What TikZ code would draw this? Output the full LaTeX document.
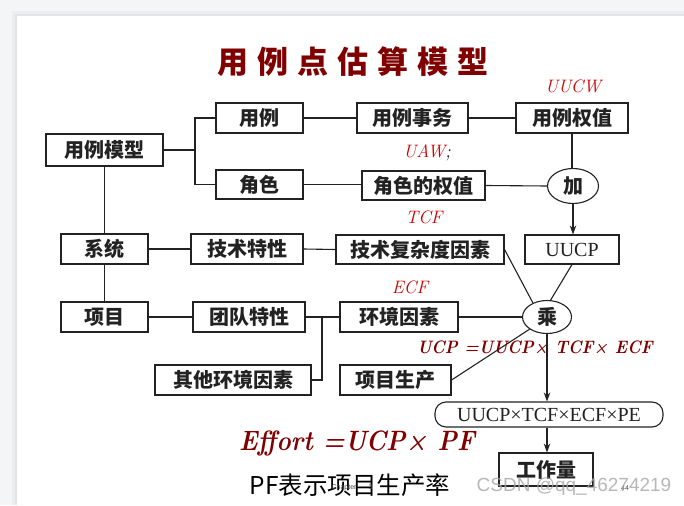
\documentclass[tikz,border=0pt]{standalone}
\usepackage{fontspec}
\usepackage{graphicx}
\usetikzlibrary{arrows.meta,shapes.geometric}
\newfontfamily\cjk{Noto Sans CJK SC}
\newfontfamily\lsr{Liberation Serif}
\newfontfamily\lsans{Liberation Sans}
\definecolor{bgray}{HTML}{F4F5F7}
\definecolor{shad}{HTML}{E2E3E6}
\definecolor{shadb}{HTML}{ECEDF0}
\definecolor{dred}{HTML}{800000}
\definecolor{lred}{HTML}{CC0000}
\definecolor{ink}{HTML}{222222}
\tikzset{
  box/.style={draw=ink, line width=1.1pt, rectangle, inner sep=0pt, text=ink,
    font=\cjk\bfseries\fontsize{20}{22}\selectfont},
  oval/.style={draw=ink, line width=1.1pt, ellipse, inner sep=0pt, text=ink,
    font=\cjk\bfseries\fontsize{20}{22}\selectfont},
  conn/.style={draw=ink, line width=1.1pt},
  arr/.style={conn, -{Stealth[length=9pt,width=6.5pt]}},
  lab/.style={text=lred, inner sep=0pt, font=\fontsize{18}{20}\selectfont\itshape},
}
\begin{document}
\begin{tikzpicture}[x=1pt,y=-1pt]
\useasboundingbox (0,0) rectangle (684,505);
% slide background
\fill[bgray] (0,0) rectangle (684,505);
\fill[shadb] (12,11) rectangle (684,505);
\fill[shad] (15,14) rectangle (684,505);
\fill[white] (17,16) rectangle (684,505);

% title
\node[text=dred, font=\cjk\bfseries\fontsize{31}{34}\selectfont] (title) at (353,62)
  {用\hspace{9pt}例\hspace{9pt}点\hspace{9pt}估\hspace{9pt}算\hspace{9pt}模\hspace{9pt}型};

% boxes
\node[box, minimum width=117pt, minimum height=32pt] (ulm) at (104.5,150) {用例模型};
\node[box, minimum width=87pt, minimum height=30pt] (yl) at (259.5,118) {用例};
\node[box, minimum width=87pt, minimum height=29pt] (js) at (259.5,184.5) {角色};
\node[box, minimum width=111pt, minimum height=30pt] (ylsw) at (412.5,118) {用例事务};
\node[box, minimum width=112pt, minimum height=30pt] (ylqz) at (572,118) {用例权值};
\node[box, minimum width=123pt, minimum height=29pt] (jsqz) at (423.5,185.5) {角色的权值};
\node[oval, minimum width=51pt, minimum height=35pt] (jia) at (573,186) {加};
\node[box, minimum width=87pt, minimum height=30pt] (xt) at (104.5,249) {系统};
\node[box, minimum width=112pt, minimum height=30pt] (jstx) at (247,249) {技术特性};
\node[box, minimum width=168pt, minimum height=29pt] (jsfz) at (420,249.5) {技术复杂度因素};
\node[box, minimum width=94pt, minimum height=29pt, font=\lsr\fontsize{20}{22}\selectfont] (uucp) at (572,249.5) {UUCP};
\node[box, minimum width=87pt, minimum height=30pt] (xm) at (104.5,317) {项目};
\node[box, minimum width=112pt, minimum height=30pt] (tdtx) at (249,317) {团队特性};
\node[box, minimum width=118pt, minimum height=30pt] (hjys) at (399,317) {环境因素};
\node[oval, minimum width=49pt, minimum height=33pt] (cheng) at (547,317) {乘};
\node[box, minimum width=156pt, minimum height=30pt] (qthj) at (233,380) {其他环境因素};
\node[box, minimum width=111pt, minimum height=30pt] (xmsc) at (395.5,380) {项目生产};
\node[box, rounded corners=11pt, minimum width=228pt, minimum height=25pt, font=\lsr\fontsize{20}{22}\selectfont] (prod) at (549,414.5) {UUCP×TCF×ECF×PE};
\node[box, minimum width=94pt, minimum height=33pt] (gzl) at (546,469.5) {工作量};

% junction points
\coordinate (b1) at (195,150);
\coordinate (b2) at (322,317);

% connectors
\draw[conn] (ulm.east) -- (b1);
\draw[conn] (yl.west) -| (b1) |- (js.west);
\draw[conn] (yl.east) -- (ylsw.west);
\draw[conn] (ylsw.east) -- (ylqz.west);
\draw[conn] (js.east) -- (js.east -| jsqz.west);
\draw[conn] (jsqz.east) -- (jia.west);
\draw[conn] (ylqz.south) -- (ylqz.south |- jia.north);
\draw[arr] (jia.south) -- (jia.south |- uucp.north);
\draw[conn] (ulm.south) -- (xt.north);
\draw[conn] (xt.east) -- (jstx.west);
\draw[conn] (jstx.east) -- (jsfz.west);
\draw[conn] (jsfz.east) -- (cheng.135);
\draw[conn] (uucp.south) -- (cheng.78);
\draw[conn] (xt.south) -- (xm.north);
\draw[conn] (xm.east) -- (tdtx.west);
\draw[conn] (tdtx.east) -- (hjys.west);
\draw[conn] (qthj.east) -| (b2);
\draw[conn] (hjys.east) -- (cheng.west);
\draw[conn] (xmsc.east) -- (cheng.215);
\draw[arr] (cheng.south) -- (cheng.south |- prod.north);
\draw[arr] (cheng.south |- prod.south) -- (cheng.south |- gzl.north);

% labels
\node[lab] (l1) at (573,86) {UUCW};
\node[lab] (l2) at (427,153) {UAW\textcolor{black}{;}};
\node[lab] (l3) at (424,217) {TCF};
\node[lab] (l4) at (410,287) {ECF};
\node[lab, text=dred, font=\fontsize{18}{20}\selectfont\itshape\bfseries] (l5) at (535,347) {\scalebox{0.91}[1]{UCP =UUCP× TCF× ECF}};
\node[text=dred, inner sep=0pt, font=\fontsize{28}{32}\selectfont\itshape\bfseries] (eff) at (357,443) {\scalebox{0.88}[1]{Effort =UCP× PF}};
\node[inner sep=0pt, font=\cjk\fontsize{24.5}{27}\selectfont] (pf) at (350,485) {PF表示项目生产率};
\node[inner sep=0pt, text=black!70, font=\lsans\fontsize{7}{8}\selectfont] (ch) at (352,488) {Chapter\hspace{12pt}3};
\node[inner sep=0pt, text=black!70, font=\lsans\fontsize{7}{8}\selectfont] (pg) at (625,488) {44};
\node[inner sep=0pt, text=black!35, opacity=0.8, font=\lsans\fontsize{19}{21}\selectfont] (wm) at (574,487) {CSDN @qq\_46274219};
\end{tikzpicture}
\end{document}
